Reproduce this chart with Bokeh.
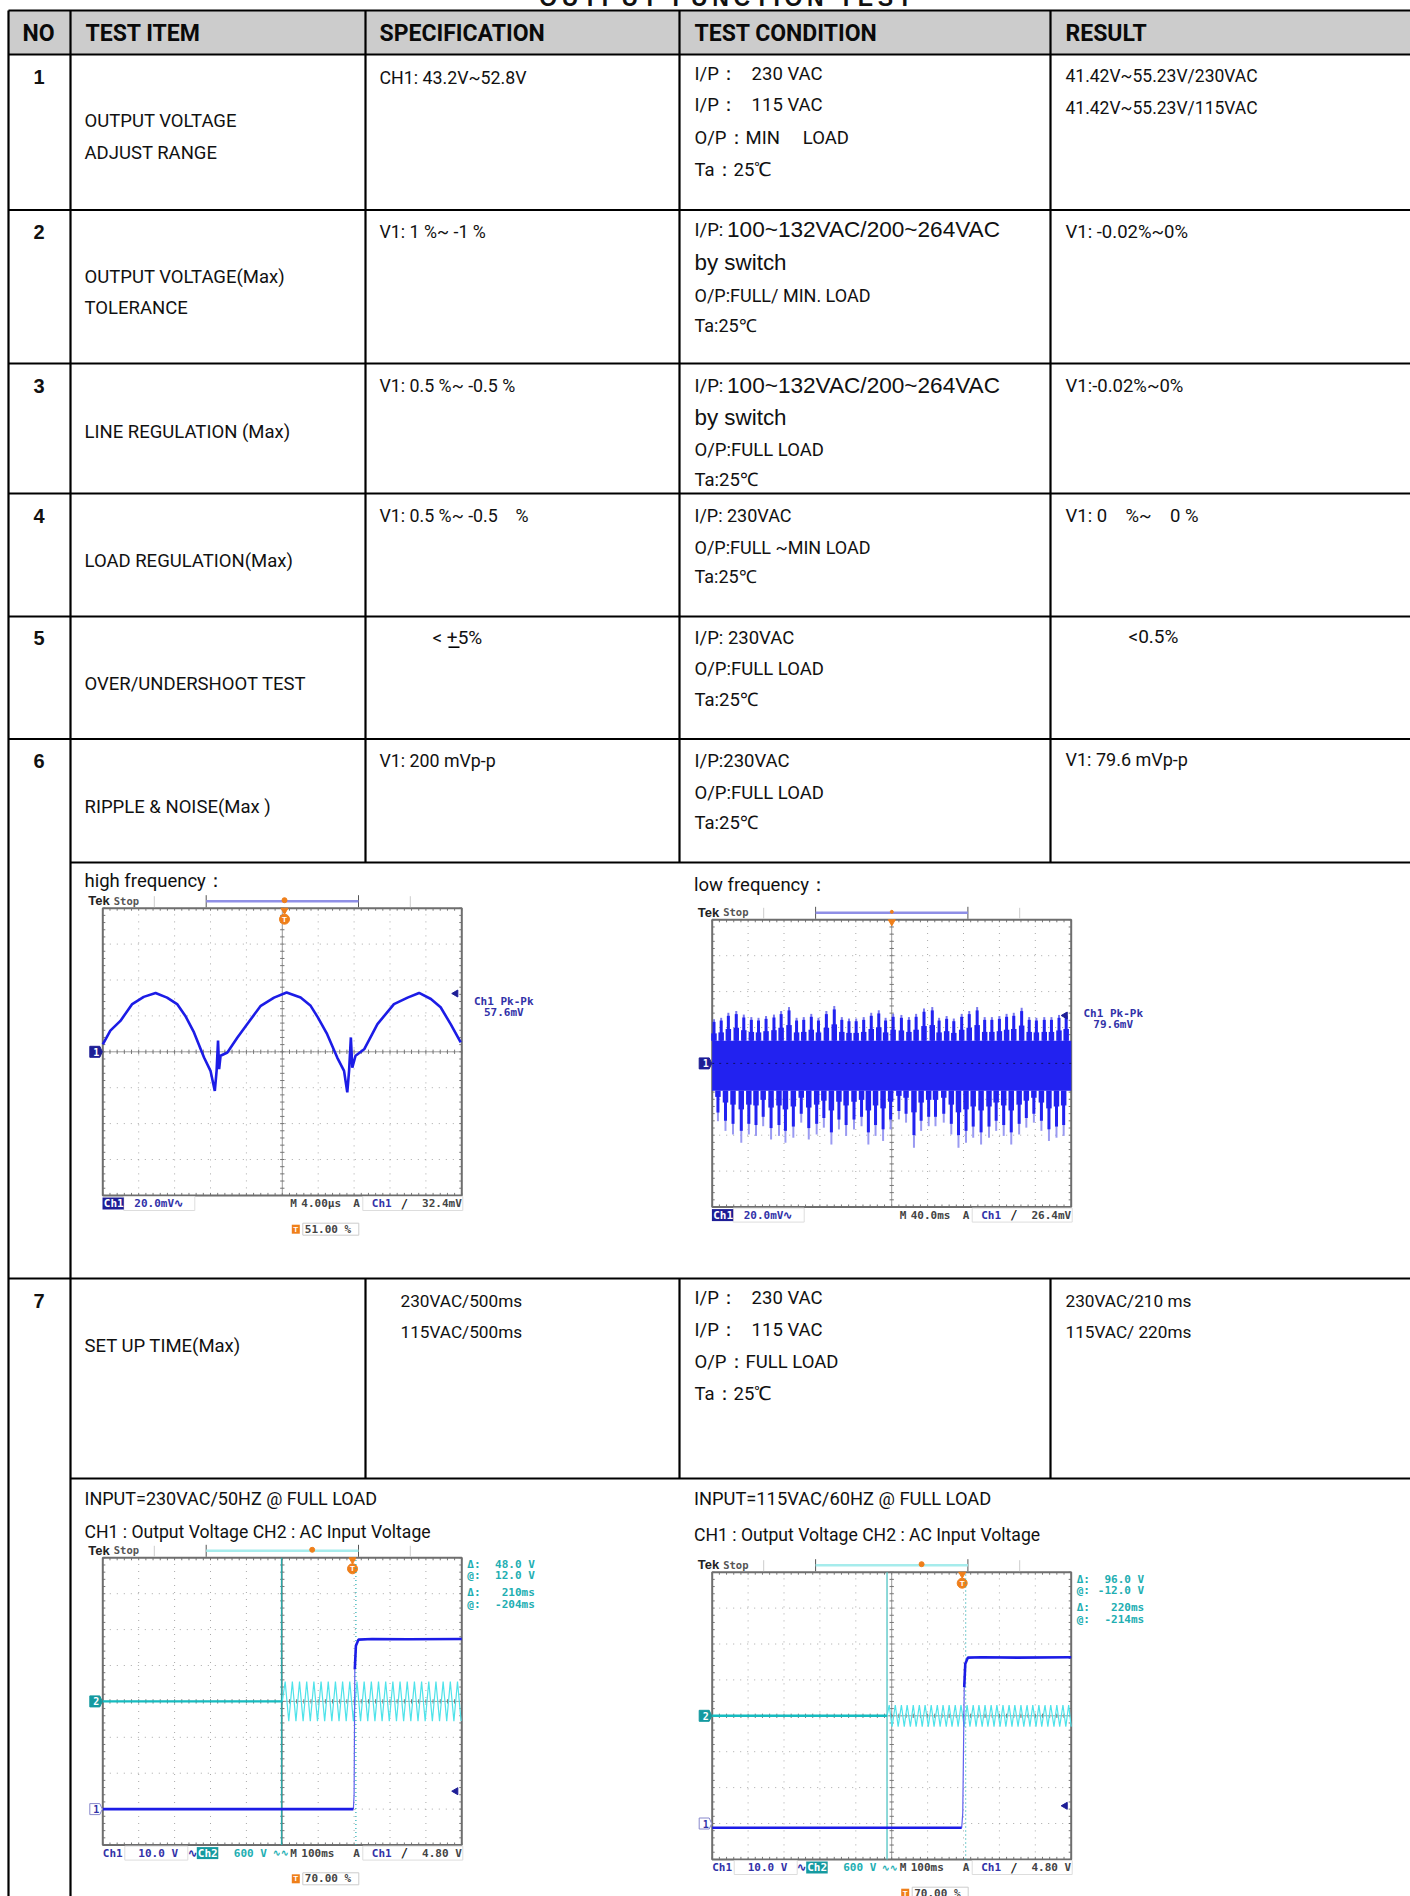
from bokeh.plotting import figure
from bokeh.models import Range1d
from bokeh.core.properties import value
from bokeh.embed import file_html
from bokeh.resources import INLINE

NB = "\u00a0"
# ---------- table content ----------
TITLE = "OUTPUT FUNCTION TEST"
HEADERS = ["NO", "TEST ITEM", "SPECIFICATION", "TEST CONDITION", "RESULT"]
NOS = ["1", "2", "3", "4", "5", "6", "7"]
ITEMS = [["OUTPUT VOLTAGE", "ADJUST RANGE"], ["OUTPUT VOLTAGE(Max)", "TOLERANCE"],
         ["LINE REGULATION (Max)"], ["LOAD REGULATION(Max)"], ["OVER/UNDERSHOOT TEST"],
         ["RIPPLE & NOISE(Max )"], ["SET UP TIME(Max)"]]
SPECS = ["CH1: 43.2V~52.8V", "V1: 1 %~ -1 %", "V1: 0.5 %~ -0.5 %", f"V1: 0.5 %~ -0.5{NB*4}%", "V1: 200 mVp-p"]
SPEC_7 = ["230VAC/500ms", "115VAC/500ms"]
COND_1 = [f"I/P：{NB*3}230 VAC", f"I/P：{NB*3}115 VAC", f"O/P：MIN{NB*5}LOAD", "Ta：25℃"]
COND_2 = ["O/P:FULL/ MIN. LOAD", "Ta:25℃"]
COND_3 = ["O/P:FULL LOAD", "Ta:25℃"]
COND_4 = ["I/P: 230VAC", "O/P:FULL ~MIN LOAD", "Ta:25℃"]
COND_5 = ["I/P: 230VAC", "O/P:FULL LOAD", "Ta:25℃"]
COND_6 = ["I/P:230VAC", "O/P:FULL LOAD", "Ta:25℃"]
COND_7 = [f"I/P：{NB*3}230 VAC", f"I/P：{NB*3}115 VAC", "O/P：FULL LOAD", "Ta：25℃"]
RES_1 = ["41.42V~55.23V/230VAC", "41.42V~55.23V/115VAC"]
RES_OTHER = ["V1: -0.02%~0%", "V1:-0.02%~0%", f"V1: 0{NB*4}%~{NB*4}0 %"]
RES_7 = ["230VAC/210 ms", "115VAC/ 220ms"]

# ---------- scope traces (divisions) ----------
hf_t = [0, .21, .49, .82, 1.14, 1.47, 1.79, 2.07, 2.30, 2.54, 2.82, 3.00, 3.12, 3.17, 3.21, 3.24, 3.28, 3.47, 3.75, 4.02, 4.40, 4.77,
        5.12, 5.51, 5.79, 5.99, 6.25, 6.53, 6.72, 6.81, 6.86, 6.91, 6.95, 7.04, 7.28, 7.65, 8.11, 8.49, 8.81, 9.14, 9.41, 9.69, 9.97]
hf_v = [.21, .59, .86, 1.33, 1.53, 1.64, 1.51, 1.33, 1.00, .54, -.16, -.53, -1.09, -.53, .31, -.48, -.11, -.02, .40, .77, 1.28, 1.51,
        1.65, 1.51, 1.28, .96, .49, -.16, -.53, -1.13, -.53, .40, -.44, -.11, .07, .77, 1.33, 1.51, 1.64, 1.47, 1.24, .77, .26]

lf_band_top = 0.63
lf_band_bottom = -0.76
lf_up_t = [.05, .25, .45, .67, .88, 1.09, 1.29, 1.50, 1.72, 1.92, 2.14, 2.35, 2.55, 2.76, 2.96, 3.18, 3.40, 3.61, 3.81, 4.01, 4.22, 4.43, 4.64,
           4.83, 5.04, 5.27, 5.48, 5.68, 5.90, 6.13, 6.32, 6.53, 6.73, 6.95, 7.16, 7.38, 7.59, 7.79, 8.00, 8.20, 8.40, 8.62, 8.83, 9.03, 9.25, 9.45, 9.66, 9.86]
lf_up_v = [1.23, 1.27, 1.41, 1.46, 1.36, 1.29, 1.27, 1.32, 1.36, 1.46, 1.57, 1.27, 1.29, 1.38, 1.27, 1.46, 1.60, 1.29, 1.25, 1.25, 1.29, 1.41, 1.48,
           1.27, 1.38, 1.35, 1.29, 1.38, 1.53, 1.57, 1.27, 1.32, 1.25, 1.38, 1.46, 1.57, 1.29, 1.29, 1.32, 1.38, 1.41, 1.55, 1.29, 1.27, 1.29, 1.29, 1.35, 1.41]
lf_dn_t = [.16, .37, .58, .81, 1.02, 1.22, 1.42, 1.64, 1.86, 2.04, 2.26, 2.48, 2.69, 2.91, 3.11, 3.32, 3.53, 3.73, 3.95, 4.16, 4.35, 4.55,
           4.76, 4.97, 5.20, 5.40, 5.62, 5.82, 6.03, 6.22, 6.45, 6.66, 6.86, 7.07, 7.27, 7.49, 7.71, 7.91, 8.12, 8.33, 8.55, 8.75, 8.96, 9.17, 9.38, 9.59, 9.79]
lf_dn_v = [-1.61, -1.88, -1.98, -2.21, -1.98, -2.02, -1.75, -2.12, -2.02, -2.21, -2.07, -1.65, -2.12, -1.98, -1.79, -2.26, -1.84, -2.02, -1.84, -1.75, -2.26, -2.02,
           -2.16, -1.84, -1.56, -1.65, -2.35, -1.88, -1.75, -1.75, -1.65, -1.98, -2.35, -2.21, -2.07, -2.26, -2.07, -1.88, -2.02, -2.26, -1.98, -1.79, -1.65, -1.88, -2.16, -2.07, -2.02]

c_ch1_low_t = [0, 6.98]
c_ch1_low_v = [-3.0, -3.0]
c_ch1_rise_t = [6.98, 7.00, 7.02]
c_ch1_rise_v = [-3.0, -2.6, 0.9]
c_ch1_high_t = [7.02, 7.05, 7.12, 7.50, 8.50, 10]
c_ch1_high_v = [0.9, 1.55, 1.72, 1.74, 1.73, 1.74]
c_ch2_flat_t = [0, 5.0]
c_ch2_flat_v = [0, 0]
c_ac_t = [5.00, 5.08, 5.18, 5.28, 5.38, 5.48, 5.58, 5.68, 5.78, 5.88, 5.98, 6.08, 6.18, 6.28, 6.38, 6.48, 6.58, 6.68, 6.78, 6.88, 6.98, 7.08, 7.18, 7.28, 7.38,
          7.48, 7.58, 7.68, 7.78, 7.88, 7.98, 8.08, 8.18, 8.28, 8.38, 8.48, 8.58, 8.68, 8.78, 8.88, 8.98, 9.08, 9.18, 9.28, 9.38, 9.48, 9.58, 9.68, 9.78, 9.88, 9.98]
c_ac_v = [0, .55, -.55, .55, -.55, .55, -.55, .55, -.55, .55, -.55, .55, -.55, .55, -.55, .55, -.55, .55, -.55, .55, -.55, .55, -.55, .55, -.55,
          .55, -.55, .55, -.55, .55, -.55, .55, -.55, .55, -.55, .55, -.55, .55, -.55, .55, -.55, .55, -.55, .55, -.55, .55, -.55, .55, -.55, .55, -.55]

d_ch1_low_t = [0, 6.95]
d_ch1_low_v = [-3.12, -3.12]
d_ch1_rise_t = [6.95, 6.98, 7.02]
d_ch1_rise_v = [-3.12, -2.7, 0.8]
d_ch1_high_t = [7.02, 7.05, 7.12, 7.50, 8.50, 10]
d_ch1_high_v = [0.8, 1.45, 1.62, 1.63, 1.62, 1.63]
d_ch2_flat_t = [0, 4.87]
d_ch2_flat_v = [0, 0]
d_ac_t = [4.87, 4.93, 5.01, 5.10, 5.18, 5.27, 5.35, 5.43, 5.52, 5.60, 5.68, 5.77, 5.85, 5.93, 6.02, 6.10, 6.18, 6.27, 6.35, 6.43, 6.52, 6.60, 6.68, 6.77, 6.85, 6.93, 7.02,
          7.10, 7.18, 7.27, 7.35, 7.43, 7.52, 7.60, 7.68, 7.77, 7.85, 7.93, 8.02, 8.10, 8.18, 8.27, 8.35, 8.43, 8.52, 8.60, 8.68, 8.77, 8.85, 8.93, 9.02,
          9.10, 9.18, 9.27, 9.35, 9.43, 9.52, 9.60, 9.68, 9.77, 9.85, 9.93, 10.0]
d_ac_v = [0, .30, -.30, .30, -.30, .30, -.30, .30, -.30, .30, -.30, .30, -.30, .30, -.30, .30, -.30, .30, -.30, .30, -.30, .30, -.30, .30, -.30, .30, -.30,
          .30, -.30, .30, -.30, .30, -.30, .30, -.30, .30, -.30, .30, -.30, .30, -.30, .30, -.30, .30, -.30, .30, -.30, .30, -.30, .30, -.30,
          .30, -.30, .30, -.30, .30, -.30, .30, -.30, .30, -.30, .30, -.30]

W, H = 1410, 1896
NARROW = "Roboto"
ARIAL = "Liberation Sans"
MONO = "DejaVu Sans Mono"
NAVY, TEAL, CYAN = "#3232a8", "#22aeb2", "#4fe3ea"
BLUE = "#1c1ce6"
ORANGE = "#ef7f1a"

p = figure(width=W + 8, height=H + 8, x_range=Range1d(-8, W), y_range=Range1d(H, -8), output_backend="svg",
           toolbar_location=None, x_axis_location=None, y_axis_location=None, min_border=0,
           outline_line_color=None, margin=(-8, 0, 0, -8))
p.grid.visible = False


def T(x, y, s, size=18.5, font=NARROW, color="#111111", style="normal", align="left", base="middle"):
    p.text([x], [y], text=[s], text_font=value(font), text_font_size=f"{size}px", text_color=color,
           text_font_style=style, text_align=align, text_baseline=base)


# ---------- table ----------
p.quad(left=[8], right=[W], top=[10], bottom=[54], fill_color="#cccccc", line_color=None)
p.text([725], [-3], text=["\u2009".join(TITLE)], text_font=value(ARIAL), text_font_size="23px", text_font_style="bold",
       text_align="center", text_baseline="alphabetic", text_color="#111111")
for x, s in zip([22, 85, 379, 694, 1065], HEADERS):
    T(x, 33, s, size=23, style="bold", color="#0a0a0a")

for y in [10, 54, 209.5, 363, 493, 616, 738.5, 1278]:
    p.segment([8], [y], [W], [y], line_color="black", line_width=2.2)
for y in [862, 1478]:
    p.segment([70], [y], [W], [y], line_color="black", line_width=2.2)
for x in [8, 70]:
    p.segment([x], [10], [x], [H], line_color="black", line_width=2.2)
for x in [365, 679, 1050]:
    p.segment([x], [10], [x], [862], line_color="black", line_width=2.2)
    p.segment([x], [1278], [x], [1478], line_color="black", line_width=2.2)

for y, s in zip([76, 231, 385, 515, 637, 760, 1300], NOS):
    T(38.5, y, s, size=20, font=ARIAL, style="bold", align="center")

X_ITEM, X_SPEC, X_COND, X_RES = 84, 379, 694, 1065
for ys, lines in zip([[120, 152], [276, 307], [431], [560], [683], [806], [1345]], ITEMS):
    for y, s in zip(ys, lines):
        T(X_ITEM, y, s)
for y, s in zip([76.7, 231, 385, 515, 760], SPECS):
    T(X_SPEC, y, s, size=17.8)
T(432, 637, "< +5%", size=19)
p.segment([448], [646.7], [459], [646.7], line_color="black", line_width=1.6)
for y, s in zip([1300, 1331], SPEC_7):
    T(400, y, s, size=17.2)

for y, s in zip([73, 104, 137, 169], COND_1):
    T(X_COND, y, s)
for y in [229, 385]:
    T(X_COND, y, "I/P:")
    T(726.5, y, "100~132VAC/200~264VAC", size=22.6, font=ARIAL)
for y in [262, 417]:
    T(X_COND, y, "by switch", size=22.4, font=ARIAL)
for y, s in zip([295, 325], COND_2):
    T(X_COND, y, s, size=18)
for y, s in zip([449, 479], COND_3):
    T(X_COND, y, s)
for y, s in zip([515, 547, 576], COND_4):
    T(X_COND, y, s, size=18)
for y, s in zip([637, 668, 699], COND_5):
    T(X_COND, y, s)
for y, s in zip([760, 792, 822], COND_6):
    T(X_COND, y, s)
for y, s in zip([1297.5, 1329, 1361, 1393], COND_7):
    T(X_COND, y, s)

for y, s in zip([75.7, 107.7], RES_1):
    T(X_RES, y, s, size=17.5)
for y, s in zip([231, 385, 515], RES_OTHER):
    T(X_RES, y, s)
T(1128, 636, "<0.5%", size=19)
T(X_RES, 759, "V1: 79.6 mVp-p", size=18)
for y, s in zip([1300, 1331], RES_7):
    T(X_RES, y, s, size=17.2)

T(84, 880, "high frequency：")
T(693.5, 884, "low frequency：")
T(84, 1498, "INPUT=230VAC/50HZ @ FULL LOAD", size=18)
T(84, 1531, "CH1 : Output Voltage CH2 : AC Input Voltage", size=17.6)
T(693.5, 1498, "INPUT=115VAC/60HZ @ FULL LOAD", size=18.3)
T(693.5, 1534, "CH1 : Output Voltage CH2 : AC Input Voltage", size=17.6)


# ---------- scopes ----------
def scope(name, x0, y0, bracket):
    """Register ranges for a screen whose 10x8 divisions sit at page box x0,y0 and draw its graticule."""
    bw, bh = 359.0, 287.2
    sx, sy = 10 / bw, 8 / bh
    p.extra_x_ranges[name] = Range1d((-8 - x0) * sx, (W - x0) * sx)
    p.extra_y_ranges[name] = Range1d(4 - (H - y0) * sy, 4 + (y0 + 8) * sy)
    kw = dict(x_range_name=name, y_range_name=name)
    xs, ys = list(range(1, 10)), list(range(-3, 4))
    p.segment(xs, [-4] * 9, xs, [4] * 9, line_color="#a8a8a8", line_dash="1 6", line_width=1, **kw)
    p.segment([0] * 7, ys, [10] * 7, ys, line_color="#a8a8a8", line_dash="1 6", line_width=1, **kw)
    p.segment([5], [-4], [5], [4], line_color="#9a9a9a", line_width=1, **kw)
    p.segment([0], [0], [10], [0], line_color="#9a9a9a", line_width=1, **kw)
    tx = [i * .2 for i in range(51)]
    ty = [-4 + i * .2 for i in range(41)]
    for a, b in [(-4, -3.93), (3.93, 4), (-.06, .06)]:
        p.segment(tx, [a] * 51, tx, [b] * 51, line_color="#777777", line_width=1, **kw)
    for a, b in [(0, .07), (9.93, 10), (4.94, 5.06)]:
        p.segment([a] * 41, ty, [b] * 41, ty, line_color="#777777", line_width=1, **kw)
    p.quad(left=[0], right=[10], bottom=[-4], top=[4], fill_color=None, line_color="#6e6e6e", line_width=2, **kw)
    # top strip
    T(x0 - 14.5, y0 - 7.5, "Tek", size=13, font=ARIAL, style="bold", color="#222222")
    T(x0 + 11, y0 - 7.5, "Stop", size=10.5, font=MONO, color="#555555", style="bold")
    for dx in [51.5, 307.5]:
        p.segment([x0 + dx], [y0 - 12], [x0 + dx], [y0 - 1], line_color="#cccccc", line_width=1)
    for dx in [103.4, 255.7]:
        p.segment([x0 + dx], [y0 - 13], [x0 + dx], [y0 - 1], line_color="#555555", line_width=1)
    p.segment([x0 + 103.4], [y0 - 7], [x0 + 255.7], [y0 - 7], line_color=bracket, line_width=2.4)
    return kw


def labels_bottom_single(x0, y0, volts, time, trig):
    yb = y0 + 295.3
    p.quad(left=[x0 + 21], right=[x0 + 92], top=[yb - 7], bottom=[yb + 7], fill_color=None, line_color="#dddddd", line_width=1)
    p.quad(left=[x0 - .3], right=[x0 + 21], top=[yb - 6], bottom=[yb + 6], fill_color="#1e1e96", line_color=None)
    T(x0 + 1, yb, "Ch1", size=11, font=MONO, color="white", style="bold")
    T(x0 + 31.5, yb, volts + "∿", size=11, font=MONO, color=NAVY, style="bold")
    bottom_common(x0, yb, time, trig)


def bottom_common(x0, yb, time, trig):
    T(x0 + 187.5, yb, "M", size=11, font=MONO, color="#444444", style="bold")
    T(x0 + 198.5, yb, time, size=11, font=MONO, color="#444444", style="bold")
    T(x0 + 250.5, yb, "A", size=11, font=MONO, color="#444444", style="bold")
    T(x0 + 269, yb, "Ch1", size=11, font=MONO, color=NAVY, style="bold")
    T(x0 + 298, yb, "/", size=12, font=MONO, color="#222222", style="bold")
    T(x0 + 359, yb, trig, size=11, font=MONO, color="#444444", style="bold", align="right")
    p.quad(left=[x0 + 260], right=[x0 + 360], top=[yb - 7], bottom=[yb + 7], fill_color=None, line_color="#dddddd", line_width=1)


def t_box(x0, y0, s):
    y = y0 + 321
    p.quad(left=[x0 + 189], right=[x0 + 197], top=[y - 4.5], bottom=[y + 4.5], fill_color=ORANGE, line_color=None)
    T(x0 + 190.5, y, "T", size=8, font=ARIAL, color="white", style="bold")
    p.quad(left=[x0 + 200], right=[x0 + 256], top=[y - 6], bottom=[y + 6], fill_color=None, line_color="#cccccc", line_width=1)
    T(x0 + 202, y, s, size=11, font=MONO, color="#444444", style="bold")


def ch_marker(x0, y0, div, label, fill, text, line=None):
    y = y0 + (4 - div) * 35.9
    xl, xr = x0 - 13, x0 - 3
    p.patch([xl, xr, x0 - .5, xr, xl], [y - 5.5, y - 5.5, y, y + 5.5, y + 5.5], fill_color=fill, line_color=line or fill, line_width=1)
    T(x0 - 9.5, y, label, size=10, font=MONO, color=text, style="bold")


def arrow(x0, y0, dy):
    p.scatter([x0 + 353], [y0 + dy], marker="triangle", size=7, angle=1.5708, color="#1e1e96")


def pk(x0, y0, s):
    T(x0 + 401, y0 + 93.5, "Ch1 Pk-Pk", size=11, font=MONO, color=NAVY, style="bold", align="center")
    T(x0 + 401, y0 + 104.5, s, size=11, font=MONO, color=NAVY, style="bold", align="center")


def cursor_labels(x0, y0, rows):
    for dy, sym, s in rows:
        T(x0 + 364.5, y0 + dy, sym, size=11, font=MONO, color=TEAL, style="bold")
        T(x0 + 432, y0 + dy, s, size=11, font=MONO, color=TEAL, style="bold", align="right")


def trig_markers(x0, y0, top_dx, t_dx, big):
    p.scatter([x0 + top_dx], [y0 - 8], marker="circle", size=5 if big else 3, color=ORANGE)
    p.scatter([x0 + t_dx], [y0 + 2], marker="inverted_triangle", size=7, color=ORANGE)
    if big:
        p.scatter([x0 + t_dx], [y0 + 11], marker="circle", size=10, color=ORANGE)
        T(x0 + t_dx, y0 + 11, "T", size=8, font=ARIAL, color="white", style="bold", align="center")


def ch_bottom_dual(x0, y0, time, trig):
    yb = y0 + 295.3
    T(x0, yb, "Ch1", size=11, font=MONO, color=NAVY, style="bold")
    p.quad(left=[x0 + 22], right=[x0 + 85], top=[yb - 7], bottom=[yb + 7], fill_color=None, line_color="#dddddd", line_width=1)
    T(x0 + 35.5, yb, "10.0 V", size=11, font=MONO, color=NAVY, style="bold")
    T(x0 + 85, yb, "∿", size=11, font=MONO, color=NAVY, style="bold")
    p.quad(left=[x0 + 94], right=[x0 + 115.5], top=[yb - 6], bottom=[yb + 6], fill_color="#159aa0", line_color=None)
    T(x0 + 95, yb, "Ch2", size=11, font=MONO, color="white", style="bold")
    T(x0 + 131, yb, "600 V", size=11, font=MONO, color=TEAL, style="bold")
    T(x0 + 170, yb, "∿∿", size=9, font=MONO, color=TEAL, style="bold")
    bottom_common(x0, yb, time, trig)


# high frequency
x0, y0 = 102.3, 907.7
k = scope("hf", x0, y0, "#8f8fe6")
trig_markers(x0, y0, 181.7, 181.7, True)
p.line(hf_t, hf_v, line_color=BLUE, line_width=2.6, **k)
ch_marker(x0, y0, 0, "1", "#1e1e96", "white")
arrow(x0, y0, 85.3)
pk(x0, y0, "57.6mV")
labels_bottom_single(x0, y0, "20.0mV", "4.00µs", "32.4mV")
t_box(x0, y0, "51.00 %")

# low frequency
x0, y0 = 711.7, 919.3
k = scope("lf", x0, y0, "#8f8fe6")
trig_markers(x0, y0, 179.6, 179.6, False)
p.quad(left=[0], right=[10], top=[lf_band_top], bottom=[lf_band_bottom], fill_color="#2222f0", line_color=None, **k)
p.segment(lf_dn_t, [lf_band_bottom] * len(lf_dn_t), lf_dn_t, lf_dn_v, line_color="#9a9af2", line_width=2, **k)
p.segment(lf_up_t, [lf_band_top] * len(lf_up_t), lf_up_t, lf_up_v, line_color="#7a7aee", line_width=2, **k)
p.segment(lf_dn_t, [lf_band_bottom] * len(lf_dn_t), lf_dn_t, [v * .85 for v in lf_dn_v], line_color="#2222f0", line_width=3, **k)
p.segment(lf_up_t, [lf_band_top] * len(lf_up_t), lf_up_t, [v * .94 for v in lf_up_v], line_color="#2222f0", line_width=3, **k)
p.segment(lf_dn_t, [lf_band_bottom] * len(lf_dn_t), lf_dn_t, [v * .58 for v in lf_dn_v], line_color="#2222f0", line_width=5.5, **k)
p.segment(lf_up_t, [lf_band_top] * len(lf_up_t), lf_up_t, [v * .68 for v in lf_up_v], line_color="#2222f0", line_width=5.5, **k)
p.segment([0], [0], [10], [0], line_color="#111166", line_width=1, line_dash="2 5", **k)
ch_marker(x0, y0, 0, "1", "#1e1e96", "white")
arrow(x0, y0, 95.7)
pk(x0, y0, "79.6mV")
labels_bottom_single(x0, y0, "20.0mV", "40.0ms", "26.4mV")

# set-up 230 VAC
x0, y0 = 102.3, 1557.3
k = scope("c", x0, y0, "#a6ecec")
trig_markers(x0, y0, 209.4, 249.7, True)
p.segment([4.98], [-4], [4.98], [4], line_color="#2aa8a8", line_width=1.4, **k)
p.segment([7.05], [-4], [7.05], [4], line_color=TEAL, line_dash="1 3", line_width=1.2, **k)
p.line(c_ac_t, c_ac_v, line_color=CYAN, line_width=1.2, **k)
p.line(c_ch2_flat_t, c_ch2_flat_v, line_color="#16bcc0", line_width=2.4, **k)
p.line(c_ch1_rise_t, c_ch1_rise_v, line_color="#6060f0", line_width=1.2, **k)
p.line(c_ch1_low_t, c_ch1_low_v, line_color=BLUE, line_width=2.6, **k)
p.line(c_ch1_high_t, c_ch1_high_v, line_color=BLUE, line_width=2.6, **k)
ch_marker(x0, y0, 0, "2", "#159aa0", "white")
ch_marker(x0, y0, -3, "1", "white", "#3232a8", line="#8888cc")
arrow(x0, y0, 233.4)
cursor_labels(x0, y0, [(6.7, "Δ:", "48.0 V"), (17.7, "@:", "12.0 V"), (34.7, "Δ:", "210ms"), (46.7, "@:", "-204ms")])
ch_bottom_dual(x0, y0, "100ms", "4.80 V")
t_box(x0, y0, "70.00 %")

# set-up 115 VAC
x0, y0 = 711.7, 1571.7
k = scope("d", x0, y0, "#a6ecec")
trig_markers(x0, y0, 209.4, 250, True)
p.segment([4.87], [-4], [4.87], [4], line_color="#5cc8c8", line_width=1.4, **k)
p.segment([7.06], [-4], [7.06], [4], line_color=TEAL, line_dash="1 3", line_width=1.2, **k)
p.line(d_ac_t, d_ac_v, line_color=CYAN, line_width=1.2, **k)
p.line(d_ch2_flat_t, d_ch2_flat_v, line_color="#16bcc0", line_width=2.4, **k)
p.line(d_ch1_rise_t, d_ch1_rise_v, line_color="#6060f0", line_width=1.2, **k)
p.line(d_ch1_low_t, d_ch1_low_v, line_color=BLUE, line_width=2.6, **k)
p.line(d_ch1_high_t, d_ch1_high_v, line_color=BLUE, line_width=2.6, **k)
ch_marker(x0, y0, 0, "2", "#159aa0", "white")
ch_marker(x0, y0, -3, "1", "white", "#3232a8", line="#8888cc")
arrow(x0, y0, 233.6)
cursor_labels(x0, y0, [(7, "Δ:", "96.0 V"), (18, "@:", "-12.0 V"), (35.5, "Δ:", "220ms"), (47, "@:", "-214ms")])
ch_bottom_dual(x0, y0, "100ms", "4.80 V")
t_box(x0, y0, "70.00 %")

open("out.html", "w").write(file_html(p, INLINE))
